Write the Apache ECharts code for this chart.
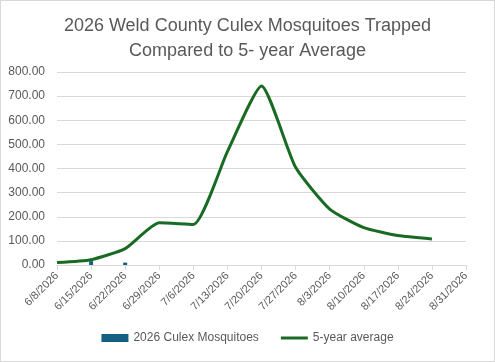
<!DOCTYPE html>
<html>
<head>
<meta charset="utf-8">
<script src="https://cdn.jsdelivr.net/npm/echarts@6/dist/echarts.min.js"></script>
<style>
  html, body { margin: 0; padding: 0; background: #fff; }
  #chart { width: 493px; height: 360px; border: 1px solid #d9d9d9; }
</style>
</head>
<body>
<div id="chart"></div>
<script>
var weeks = ['6/8/2026', '6/15/2026', '6/22/2026', '6/29/2026', '7/6/2026', '7/13/2026', '7/20/2026',
  '7/27/2026', '8/3/2026', '8/10/2026', '8/17/2026', '8/24/2026', '8/31/2026'];
var mosquitoes2026 = [null, 16, 10, null, null, null, null, null, null, null, null, null, null];
var fiveYearAvg = [10, 22, 68, 175, 168, 470, 742, 405, 232, 155, 122, 108, null];

var chart = echarts.init(document.getElementById('chart'));
chart.setOption({
  animation: false,
  title: {
    text: '2026 Weld County Culex Mosquitoes Trapped\nCompared to 5- year Average',
    left: 'center',
    top: 8,
    textStyle: { fontFamily: 'Liberation Sans', fontSize: 18, fontWeight: 'normal', color: '#595959', lineHeight: 25 }
  },
  legend: {
    bottom: 12,
    left: 'center',
    itemWidth: 27,
    itemHeight: 8,
    itemGap: 22,
    textStyle: { fontFamily: 'Liberation Sans', fontSize: 12, color: '#595959' },
    data: [
      { name: '2026 Culex Mosquitoes', icon: 'rect' },
      { name: '5-year average', icon: 'path://M0,0H27V3H0Z' }
    ]
  },
  grid: { left: 56, right: 28, top: 71, bottom: 96 },
  xAxis: {
    type: 'category',
    data: weeks,
    boundaryGap: false,
    axisLine: { lineStyle: { color: '#d9d9d9' } },
    axisTick: { show: true, alignWithLabel: true, length: 5, lineStyle: { color: '#d9d9d9' } },
    axisLabel: { rotate: 45, interval: 0, fontFamily: 'Liberation Sans', fontSize: 11, color: '#595959', margin: 9 }
  },
  yAxis: {
    type: 'value',
    min: 0,
    max: 800,
    interval: 100,
    axisLine: { show: false },
    axisTick: { show: false },
    splitLine: { lineStyle: { color: '#d9d9d9' } },
    axisLabel: {
      fontFamily: 'Liberation Sans', fontSize: 12, color: '#595959', margin: 12,
      formatter: function (v) { return v.toFixed(2); }
    }
  },
  series: [
    {
      name: '2026 Culex Mosquitoes',
      type: 'bar',
      data: mosquitoes2026,
      barWidth: 4,
      itemStyle: { color: '#156082' }
    },
    {
      name: '5-year average',
      type: 'line',
      data: fiveYearAvg,
      smooth: 0.18,
      symbol: 'none',
      lineStyle: { color: '#196B24', width: 3 },
      itemStyle: { color: '#196B24' }
    }
  ]
});
</script>
</body>
</html>
